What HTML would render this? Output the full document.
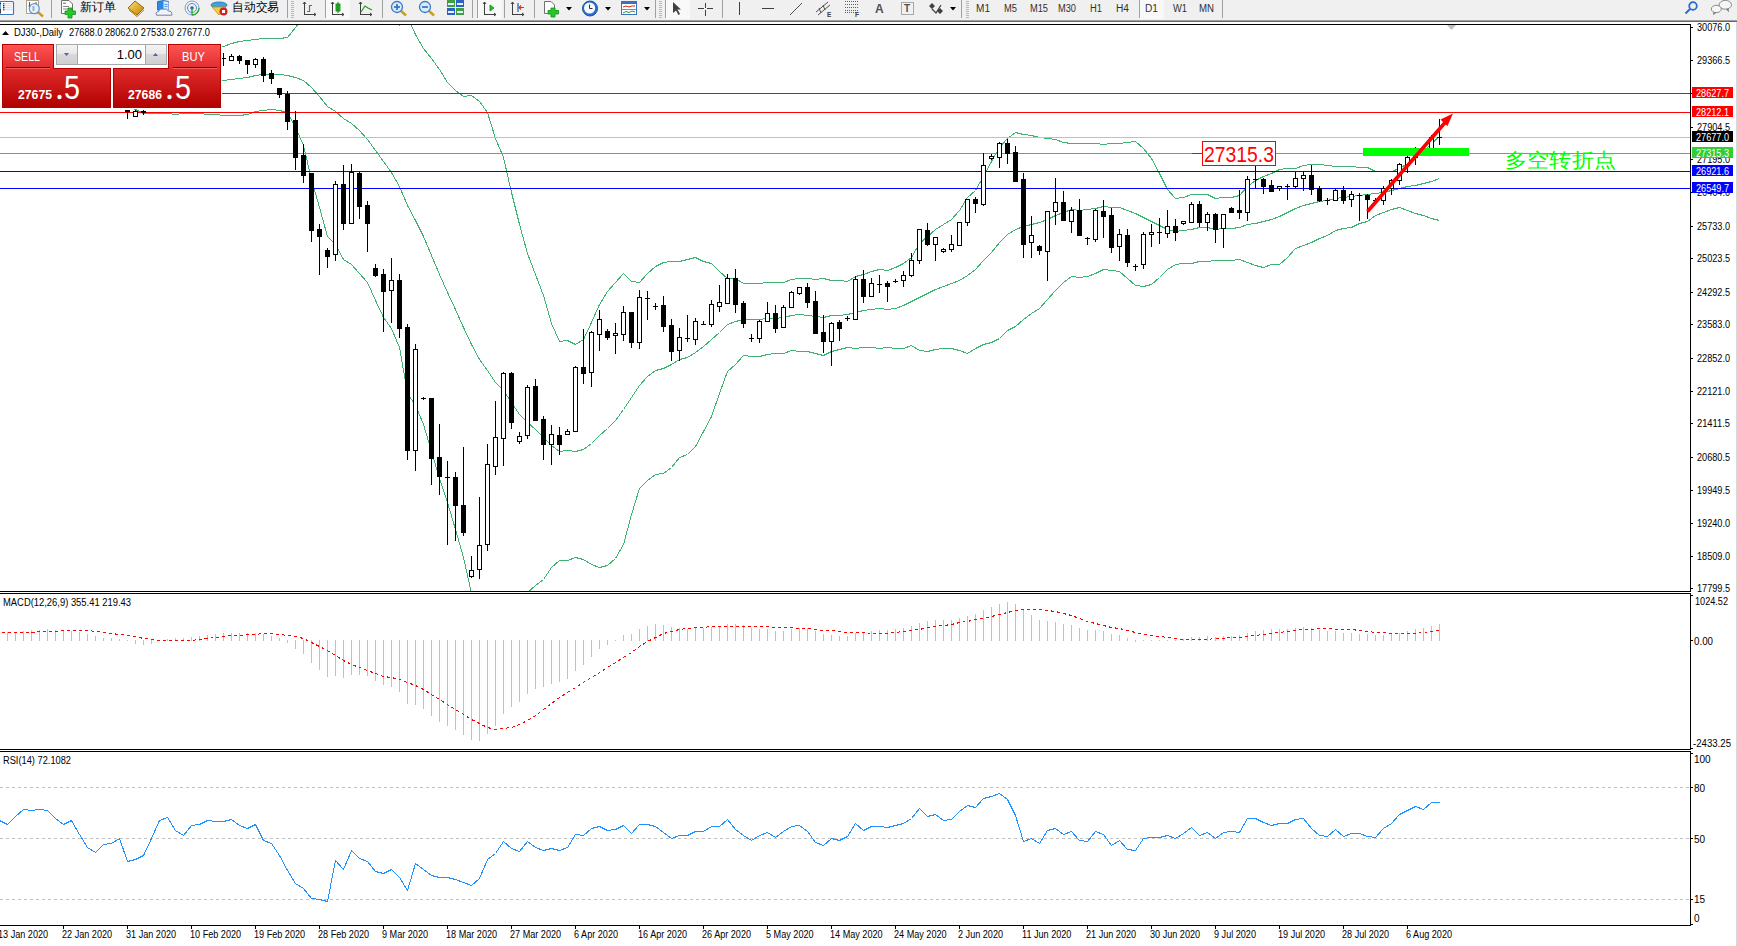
<!DOCTYPE html>
<html><head><meta charset="utf-8"><title>MT4</title>
<style>
html,body{margin:0;padding:0;width:1737px;height:946px;overflow:hidden;background:#fff;font-family:"Liberation Sans",sans-serif;}
#tb{position:absolute;left:0;top:0;width:1737px;height:20px;background:#f0f0f0;}
#tbl1{position:absolute;left:0;top:20px;width:1737px;height:1px;background:#a0a0a0;}
#tbl2{position:absolute;left:0;top:21px;width:1737px;height:1px;background:#696969;}
</style></head><body>
<svg width="1737" height="946" viewBox="0 0 1737 946" style="position:absolute;left:0;top:0">
<rect x="0" y="22" width="1737" height="924" fill="#ffffff"/>
<defs><clipPath id="cm"><rect x="0" y="25" width="1690" height="566"/></clipPath><clipPath id="cd"><rect x="0" y="594" width="1690" height="155"/></clipPath><clipPath id="cr"><rect x="0" y="752" width="1690" height="173"/></clipPath></defs>
<g clip-path="url(#cm)" shape-rendering="crispEdges">
<polyline points="-16.5,80.5 -8.5,80.5 -0.5,78.5 7.5,77.5 15.5,74.5 23.5,70.5 31.5,65.5 39.5,61.5 47.5,58.5 55.5,57.5 63.5,56.5 71.5,56.5 79.5,56.5 87.5,56.5 95.5,55.5 103.5,56.5 111.5,56.5 119.5,56.5 127.5,53.5 135.5,52.5 143.5,51.5 151.5,51.5 159.5,49.5 167.5,47.5 175.5,47.5 183.5,49.5 191.5,49.5 199.5,50.5 207.5,49.5 215.5,47.5 223.5,46.5 231.5,43.5 239.5,41.5 247.5,40.5 255.5,39.5 263.5,38.5 271.5,38.5 279.5,38.5 287.5,37.5 295.5,27.5 303.5,16.5 311.5,-4.5 319.5,-15.5 327.5,-23.5 335.5,-21.5 343.5,-22.5 351.5,-16.5 359.5,-11.5 367.5,-4.5 375.5,0.5 383.5,5.5 391.5,17.5 399.5,25.5 407.5,17.5 415.5,34.5 423.5,48.5 431.5,58.5 439.5,69.5 447.5,82.5 455.5,90.5 463.5,96.5 471.5,95.5 479.5,101.5 487.5,112.5 495.5,138.5 503.5,157.5 511.5,192.5 519.5,224.5 527.5,253.5 535.5,274.5 543.5,295.5 551.5,323.5 559.5,341.5 567.5,340.5 575.5,344.5 583.5,339.5 591.5,322.5 599.5,304.5 607.5,291.5 615.5,282.5 623.5,273.5 631.5,281.5 639.5,282.5 647.5,273.5 655.5,266.5 663.5,262.5 671.5,261.5 679.5,261.5 687.5,259.5 695.5,257.5 703.5,261.5 711.5,263.5 719.5,271.5 727.5,278.5 735.5,278.5 743.5,283.5 751.5,283.5 759.5,283.5 767.5,282.5 775.5,282.5 783.5,282.5 791.5,279.5 799.5,278.5 807.5,278.5 815.5,279.5 823.5,278.5 831.5,280.5 839.5,280.5 847.5,281.5 855.5,276.5 863.5,274.5 871.5,271.5 879.5,269.5 887.5,270.5 895.5,267.5 903.5,263.5 911.5,257.5 919.5,243.5 927.5,236.5 935.5,229.5 943.5,224.5 951.5,219.5 959.5,210.5 967.5,197.5 975.5,190.5 983.5,176.5 991.5,161.5 999.5,147.5 1007.5,138.5 1015.5,132.5 1023.5,134.5 1031.5,135.5 1039.5,137.5 1047.5,138.5 1055.5,139.5 1063.5,142.5 1071.5,143.5 1079.5,143.5 1087.5,143.5 1095.5,143.5 1103.5,144.5 1111.5,143.5 1119.5,143.5 1127.5,142.5 1135.5,141.5 1143.5,148.5 1151.5,158.5 1159.5,173.5 1167.5,189.5 1175.5,198.5 1183.5,197.5 1191.5,194.5 1199.5,194.5 1207.5,194.5 1215.5,198.5 1223.5,197.5 1231.5,197.5 1239.5,195.5 1247.5,186.5 1255.5,180.5 1263.5,176.5 1271.5,173.5 1279.5,169.5 1287.5,168.5 1295.5,168.5 1303.5,165.5 1311.5,164.5 1319.5,164.5 1327.5,165.5 1335.5,166.5 1343.5,166.5 1351.5,166.5 1359.5,167.5 1367.5,167.5 1375.5,171.5 1383.5,171.5 1391.5,171.5 1399.5,168.5 1407.5,163.5 1415.5,157.5 1423.5,151.5 1431.5,143.5 1439.5,136.5" fill="none" stroke="#3cb371" stroke-width="1" />
<polyline points="-16.5,94.5 -8.5,93.5 -0.5,92.5 7.5,90.5 15.5,89.5 23.5,88.5 31.5,86.5 39.5,84.5 47.5,83.5 55.5,81.5 63.5,80.5 71.5,78.5 79.5,78.5 87.5,78.5 95.5,79.5 103.5,78.5 111.5,78.5 119.5,78.5 127.5,79.5 135.5,81.5 143.5,82.5 151.5,82.5 159.5,81.5 167.5,80.5 175.5,80.5 183.5,81.5 191.5,81.5 199.5,81.5 207.5,81.5 215.5,81.5 223.5,80.5 231.5,79.5 239.5,78.5 247.5,77.5 255.5,75.5 263.5,74.5 271.5,74.5 279.5,74.5 287.5,75.5 295.5,77.5 303.5,80.5 311.5,87.5 319.5,96.5 327.5,106.5 335.5,111.5 343.5,118.5 351.5,123.5 359.5,130.5 367.5,139.5 375.5,150.5 383.5,161.5 391.5,172.5 399.5,186.5 407.5,205.5 415.5,220.5 423.5,236.5 431.5,255.5 439.5,274.5 447.5,292.5 455.5,309.5 463.5,327.5 471.5,344.5 479.5,359.5 487.5,370.5 495.5,382.5 503.5,390.5 511.5,402.5 519.5,414.5 527.5,422.5 535.5,429.5 543.5,437.5 551.5,445.5 559.5,451.5 567.5,450.5 575.5,451.5 583.5,449.5 591.5,443.5 599.5,435.5 607.5,428.5 615.5,420.5 623.5,409.5 631.5,397.5 639.5,385.5 647.5,376.5 655.5,370.5 663.5,368.5 671.5,364.5 679.5,359.5 687.5,357.5 695.5,352.5 703.5,346.5 711.5,339.5 719.5,332.5 727.5,324.5 735.5,321.5 743.5,319.5 751.5,319.5 759.5,319.5 767.5,318.5 775.5,318.5 783.5,317.5 791.5,315.5 799.5,314.5 807.5,315.5 815.5,316.5 823.5,317.5 831.5,315.5 839.5,315.5 847.5,314.5 855.5,312.5 863.5,310.5 871.5,309.5 879.5,308.5 887.5,309.5 895.5,308.5 903.5,305.5 911.5,301.5 919.5,297.5 927.5,293.5 935.5,289.5 943.5,286.5 951.5,283.5 959.5,280.5 967.5,275.5 975.5,269.5 983.5,260.5 991.5,252.5 999.5,242.5 1007.5,234.5 1015.5,229.5 1023.5,226.5 1031.5,224.5 1039.5,222.5 1047.5,219.5 1055.5,215.5 1063.5,212.5 1071.5,209.5 1079.5,210.5 1087.5,209.5 1095.5,208.5 1103.5,206.5 1111.5,207.5 1119.5,207.5 1127.5,210.5 1135.5,213.5 1143.5,217.5 1151.5,221.5 1159.5,225.5 1167.5,229.5 1175.5,231.5 1183.5,230.5 1191.5,229.5 1199.5,227.5 1207.5,227.5 1215.5,229.5 1223.5,228.5 1231.5,228.5 1239.5,227.5 1247.5,224.5 1255.5,223.5 1263.5,221.5 1271.5,219.5 1279.5,216.5 1287.5,212.5 1295.5,208.5 1303.5,205.5 1311.5,203.5 1319.5,201.5 1327.5,200.5 1335.5,198.5 1343.5,197.5 1351.5,196.5 1359.5,195.5 1367.5,194.5 1375.5,193.5 1383.5,192.5 1391.5,190.5 1399.5,188.5 1407.5,186.5 1415.5,185.5 1423.5,183.5 1431.5,181.5 1439.5,178.5" fill="none" stroke="#3cb371" stroke-width="1" />
<polyline points="-16.5,107.5 -8.5,105.5 -0.5,105.5 7.5,104.5 15.5,104.5 23.5,106.5 31.5,106.5 39.5,107.5 47.5,107.5 55.5,106.5 63.5,104.5 71.5,101.5 79.5,99.5 87.5,100.5 95.5,102.5 103.5,101.5 111.5,101.5 119.5,99.5 127.5,105.5 135.5,109.5 143.5,113.5 151.5,113.5 159.5,113.5 167.5,113.5 175.5,114.5 183.5,113.5 191.5,113.5 199.5,113.5 207.5,114.5 215.5,114.5 223.5,115.5 231.5,115.5 239.5,115.5 247.5,114.5 255.5,111.5 263.5,110.5 271.5,109.5 279.5,110.5 287.5,112.5 295.5,127.5 303.5,145.5 311.5,179.5 319.5,207.5 327.5,236.5 335.5,244.5 343.5,259.5 351.5,264.5 359.5,273.5 367.5,282.5 375.5,300.5 383.5,317.5 391.5,328.5 399.5,347.5 407.5,393.5 415.5,405.5 423.5,424.5 431.5,451.5 439.5,478.5 447.5,502.5 455.5,529.5 463.5,557.5 471.5,593.5 479.5,618.5 487.5,627.5 495.5,626.5 503.5,623.5 511.5,613.5 519.5,604.5 527.5,592.5 535.5,585.5 543.5,579.5 551.5,567.5 559.5,560.5 567.5,560.5 575.5,557.5 583.5,559.5 591.5,564.5 599.5,567.5 607.5,565.5 615.5,558.5 623.5,544.5 631.5,514.5 639.5,488.5 647.5,480.5 655.5,474.5 663.5,473.5 671.5,467.5 679.5,457.5 687.5,454.5 695.5,446.5 703.5,431.5 711.5,416.5 719.5,393.5 727.5,371.5 735.5,364.5 743.5,355.5 751.5,356.5 759.5,356.5 767.5,354.5 775.5,353.5 783.5,353.5 791.5,350.5 799.5,351.5 807.5,351.5 815.5,353.5 823.5,355.5 831.5,351.5 839.5,349.5 847.5,347.5 855.5,348.5 863.5,347.5 871.5,347.5 879.5,348.5 887.5,347.5 895.5,348.5 903.5,348.5 911.5,345.5 919.5,350.5 927.5,351.5 935.5,349.5 943.5,348.5 951.5,348.5 959.5,350.5 967.5,353.5 975.5,348.5 983.5,344.5 991.5,342.5 999.5,338.5 1007.5,330.5 1015.5,326.5 1023.5,319.5 1031.5,313.5 1039.5,308.5 1047.5,299.5 1055.5,290.5 1063.5,282.5 1071.5,276.5 1079.5,277.5 1087.5,276.5 1095.5,273.5 1103.5,269.5 1111.5,270.5 1119.5,271.5 1127.5,278.5 1135.5,285.5 1143.5,286.5 1151.5,284.5 1159.5,277.5 1167.5,269.5 1175.5,264.5 1183.5,263.5 1191.5,263.5 1199.5,261.5 1207.5,261.5 1215.5,260.5 1223.5,260.5 1231.5,260.5 1239.5,259.5 1247.5,262.5 1255.5,265.5 1263.5,267.5 1271.5,264.5 1279.5,264.5 1287.5,257.5 1295.5,248.5 1303.5,245.5 1311.5,242.5 1319.5,238.5 1327.5,235.5 1335.5,230.5 1343.5,228.5 1351.5,227.5 1359.5,223.5 1367.5,221.5 1375.5,215.5 1383.5,212.5 1391.5,209.5 1399.5,207.5 1407.5,210.5 1415.5,213.5 1423.5,215.5 1431.5,218.5 1439.5,220.5" fill="none" stroke="#3cb371" stroke-width="1" />
<rect x="0" y="93" width="1690" height="1" fill="#ff0000"/>
<rect x="0" y="112" width="1690" height="1" fill="#ff0000"/>
<rect x="0" y="137" width="1690" height="1" fill="#c0c0c0"/>
<rect x="0" y="153" width="1690" height="1" fill="#32cd32"/>
<rect x="0" y="171" width="1690" height="1" fill="#0000ff"/>
<rect x="0" y="188" width="1690" height="1" fill="#0000ff"/>
<rect x="1192" y="153" width="10" height="1" fill="#ff0000"/>
<rect x="127" y="110" width="1" height="9" fill="#000"/>
<rect x="125" y="110" width="5" height="2" fill="#000"/>
<rect x="135" y="110" width="1" height="7" fill="#000"/>
<rect x="133" y="111" width="5" height="6" fill="#000"/>
<rect x="134" y="112" width="3" height="4" fill="#fff"/>
<rect x="143" y="110" width="1" height="5" fill="#000"/>
<rect x="141" y="111" width="5" height="2" fill="#000"/>
<rect x="223" y="53" width="1" height="13" fill="#000"/>
<rect x="221" y="58" width="5" height="1" fill="#000"/>
<rect x="231" y="54" width="1" height="7" fill="#000"/>
<rect x="229" y="56" width="5" height="5" fill="#000"/>
<rect x="230" y="57" width="3" height="3" fill="#fff"/>
<rect x="239" y="55" width="1" height="9" fill="#000"/>
<rect x="237" y="56" width="5" height="5" fill="#000"/>
<rect x="247" y="60" width="1" height="14" fill="#000"/>
<rect x="245" y="60" width="5" height="5" fill="#000"/>
<rect x="255" y="58" width="1" height="10" fill="#000"/>
<rect x="253" y="59" width="5" height="6" fill="#000"/>
<rect x="254" y="60" width="3" height="4" fill="#fff"/>
<rect x="263" y="57" width="1" height="25" fill="#000"/>
<rect x="261" y="59" width="5" height="17" fill="#000"/>
<rect x="271" y="70" width="1" height="14" fill="#000"/>
<rect x="269" y="73" width="5" height="6" fill="#000"/>
<rect x="279" y="88" width="1" height="10" fill="#000"/>
<rect x="277" y="88" width="5" height="7" fill="#000"/>
<rect x="287" y="91" width="1" height="39" fill="#000"/>
<rect x="285" y="94" width="5" height="28" fill="#000"/>
<rect x="295" y="111" width="1" height="59" fill="#000"/>
<rect x="293" y="120" width="5" height="38" fill="#000"/>
<rect x="303" y="144" width="1" height="39" fill="#000"/>
<rect x="301" y="155" width="5" height="21" fill="#000"/>
<rect x="311" y="173" width="1" height="69" fill="#000"/>
<rect x="309" y="173" width="5" height="58" fill="#000"/>
<rect x="319" y="224" width="1" height="51" fill="#000"/>
<rect x="317" y="229" width="5" height="8" fill="#000"/>
<rect x="327" y="248" width="1" height="20" fill="#000"/>
<rect x="325" y="250" width="5" height="7" fill="#000"/>
<rect x="335" y="181" width="1" height="80" fill="#000"/>
<rect x="333" y="184" width="5" height="71" fill="#000"/>
<rect x="334" y="185" width="3" height="69" fill="#fff"/>
<rect x="343" y="165" width="1" height="65" fill="#000"/>
<rect x="341" y="184" width="5" height="40" fill="#000"/>
<rect x="351" y="164" width="1" height="60" fill="#000"/>
<rect x="349" y="172" width="5" height="52" fill="#000"/>
<rect x="350" y="173" width="3" height="50" fill="#fff"/>
<rect x="359" y="172" width="1" height="47" fill="#000"/>
<rect x="357" y="173" width="5" height="34" fill="#000"/>
<rect x="367" y="201" width="1" height="51" fill="#000"/>
<rect x="365" y="205" width="5" height="19" fill="#000"/>
<rect x="375" y="264" width="1" height="13" fill="#000"/>
<rect x="373" y="268" width="5" height="8" fill="#000"/>
<rect x="383" y="269" width="1" height="63" fill="#000"/>
<rect x="381" y="274" width="5" height="18" fill="#000"/>
<rect x="391" y="258" width="1" height="65" fill="#000"/>
<rect x="389" y="280" width="5" height="11" fill="#000"/>
<rect x="390" y="281" width="3" height="9" fill="#fff"/>
<rect x="399" y="274" width="1" height="64" fill="#000"/>
<rect x="397" y="280" width="5" height="49" fill="#000"/>
<rect x="407" y="324" width="1" height="136" fill="#000"/>
<rect x="405" y="327" width="5" height="124" fill="#000"/>
<rect x="415" y="344" width="1" height="127" fill="#000"/>
<rect x="413" y="349" width="5" height="102" fill="#000"/>
<rect x="414" y="350" width="3" height="100" fill="#fff"/>
<rect x="423" y="397" width="1" height="3" fill="#000"/>
<rect x="421" y="398" width="5" height="1" fill="#000"/>
<rect x="431" y="398" width="1" height="87" fill="#000"/>
<rect x="429" y="398" width="5" height="61" fill="#000"/>
<rect x="439" y="424" width="1" height="71" fill="#000"/>
<rect x="437" y="457" width="5" height="20" fill="#000"/>
<rect x="447" y="461" width="1" height="84" fill="#000"/>
<rect x="445" y="477" width="5" height="1" fill="#000"/>
<rect x="455" y="472" width="1" height="69" fill="#000"/>
<rect x="453" y="477" width="5" height="29" fill="#000"/>
<rect x="463" y="447" width="1" height="89" fill="#000"/>
<rect x="461" y="505" width="5" height="28" fill="#000"/>
<rect x="471" y="556" width="1" height="22" fill="#000"/>
<rect x="469" y="570" width="5" height="7" fill="#000"/>
<rect x="470" y="571" width="3" height="5" fill="#fff"/>
<rect x="479" y="497" width="1" height="82" fill="#000"/>
<rect x="477" y="545" width="5" height="25" fill="#000"/>
<rect x="478" y="546" width="3" height="23" fill="#fff"/>
<rect x="487" y="444" width="1" height="107" fill="#000"/>
<rect x="485" y="464" width="5" height="81" fill="#000"/>
<rect x="486" y="465" width="3" height="79" fill="#fff"/>
<rect x="495" y="401" width="1" height="74" fill="#000"/>
<rect x="493" y="437" width="5" height="30" fill="#000"/>
<rect x="494" y="438" width="3" height="28" fill="#fff"/>
<rect x="503" y="372" width="1" height="94" fill="#000"/>
<rect x="501" y="373" width="5" height="66" fill="#000"/>
<rect x="502" y="374" width="3" height="64" fill="#fff"/>
<rect x="511" y="372" width="1" height="57" fill="#000"/>
<rect x="509" y="373" width="5" height="50" fill="#000"/>
<rect x="519" y="432" width="1" height="12" fill="#000"/>
<rect x="517" y="436" width="5" height="6" fill="#000"/>
<rect x="518" y="437" width="3" height="4" fill="#fff"/>
<rect x="527" y="385" width="1" height="54" fill="#000"/>
<rect x="525" y="387" width="5" height="49" fill="#000"/>
<rect x="526" y="388" width="3" height="47" fill="#fff"/>
<rect x="535" y="379" width="1" height="42" fill="#000"/>
<rect x="533" y="386" width="5" height="35" fill="#000"/>
<rect x="543" y="416" width="1" height="44" fill="#000"/>
<rect x="541" y="419" width="5" height="26" fill="#000"/>
<rect x="551" y="425" width="1" height="40" fill="#000"/>
<rect x="549" y="434" width="5" height="11" fill="#000"/>
<rect x="550" y="435" width="3" height="9" fill="#fff"/>
<rect x="559" y="427" width="1" height="28" fill="#000"/>
<rect x="557" y="435" width="5" height="10" fill="#000"/>
<rect x="567" y="429" width="1" height="6" fill="#000"/>
<rect x="565" y="431" width="5" height="4" fill="#000"/>
<rect x="566" y="432" width="3" height="2" fill="#fff"/>
<rect x="575" y="366" width="1" height="66" fill="#000"/>
<rect x="573" y="367" width="5" height="65" fill="#000"/>
<rect x="574" y="368" width="3" height="63" fill="#fff"/>
<rect x="583" y="329" width="1" height="55" fill="#000"/>
<rect x="581" y="367" width="5" height="7" fill="#000"/>
<rect x="591" y="331" width="1" height="56" fill="#000"/>
<rect x="589" y="332" width="5" height="41" fill="#000"/>
<rect x="590" y="333" width="3" height="39" fill="#fff"/>
<rect x="599" y="310" width="1" height="41" fill="#000"/>
<rect x="597" y="319" width="5" height="16" fill="#000"/>
<rect x="598" y="320" width="3" height="14" fill="#fff"/>
<rect x="607" y="329" width="1" height="11" fill="#000"/>
<rect x="605" y="331" width="5" height="7" fill="#000"/>
<rect x="615" y="323" width="1" height="31" fill="#000"/>
<rect x="613" y="333" width="5" height="3" fill="#000"/>
<rect x="614" y="334" width="3" height="1" fill="#fff"/>
<rect x="623" y="306" width="1" height="35" fill="#000"/>
<rect x="621" y="312" width="5" height="23" fill="#000"/>
<rect x="622" y="313" width="3" height="21" fill="#fff"/>
<rect x="631" y="312" width="1" height="36" fill="#000"/>
<rect x="629" y="312" width="5" height="31" fill="#000"/>
<rect x="639" y="290" width="1" height="59" fill="#000"/>
<rect x="637" y="297" width="5" height="46" fill="#000"/>
<rect x="638" y="298" width="3" height="44" fill="#fff"/>
<rect x="647" y="291" width="1" height="29" fill="#000"/>
<rect x="645" y="298" width="5" height="1" fill="#000"/>
<rect x="655" y="303" width="1" height="7" fill="#000"/>
<rect x="653" y="306" width="5" height="1" fill="#000"/>
<rect x="663" y="296" width="1" height="36" fill="#000"/>
<rect x="661" y="305" width="5" height="22" fill="#000"/>
<rect x="671" y="319" width="1" height="42" fill="#000"/>
<rect x="669" y="325" width="5" height="27" fill="#000"/>
<rect x="679" y="328" width="1" height="33" fill="#000"/>
<rect x="677" y="337" width="5" height="14" fill="#000"/>
<rect x="678" y="338" width="3" height="12" fill="#fff"/>
<rect x="687" y="315" width="1" height="27" fill="#000"/>
<rect x="685" y="338" width="5" height="1" fill="#000"/>
<rect x="695" y="318" width="1" height="27" fill="#000"/>
<rect x="693" y="321" width="5" height="19" fill="#000"/>
<rect x="694" y="322" width="3" height="17" fill="#fff"/>
<rect x="703" y="321" width="1" height="4" fill="#000"/>
<rect x="701" y="324" width="5" height="1" fill="#000"/>
<rect x="711" y="300" width="1" height="27" fill="#000"/>
<rect x="709" y="304" width="5" height="21" fill="#000"/>
<rect x="710" y="305" width="3" height="19" fill="#fff"/>
<rect x="719" y="285" width="1" height="27" fill="#000"/>
<rect x="717" y="302" width="5" height="5" fill="#000"/>
<rect x="718" y="303" width="3" height="3" fill="#fff"/>
<rect x="727" y="274" width="1" height="30" fill="#000"/>
<rect x="725" y="278" width="5" height="26" fill="#000"/>
<rect x="726" y="279" width="3" height="24" fill="#fff"/>
<rect x="735" y="269" width="1" height="44" fill="#000"/>
<rect x="733" y="278" width="5" height="27" fill="#000"/>
<rect x="743" y="301" width="1" height="27" fill="#000"/>
<rect x="741" y="303" width="5" height="21" fill="#000"/>
<rect x="751" y="334" width="1" height="8" fill="#000"/>
<rect x="749" y="338" width="5" height="1" fill="#000"/>
<rect x="759" y="320" width="1" height="23" fill="#000"/>
<rect x="757" y="321" width="5" height="18" fill="#000"/>
<rect x="758" y="322" width="3" height="16" fill="#fff"/>
<rect x="767" y="302" width="1" height="20" fill="#000"/>
<rect x="765" y="313" width="5" height="9" fill="#000"/>
<rect x="766" y="314" width="3" height="7" fill="#fff"/>
<rect x="775" y="305" width="1" height="28" fill="#000"/>
<rect x="773" y="313" width="5" height="16" fill="#000"/>
<rect x="783" y="305" width="1" height="23" fill="#000"/>
<rect x="781" y="307" width="5" height="21" fill="#000"/>
<rect x="782" y="308" width="3" height="19" fill="#fff"/>
<rect x="791" y="291" width="1" height="17" fill="#000"/>
<rect x="789" y="292" width="5" height="16" fill="#000"/>
<rect x="790" y="293" width="3" height="14" fill="#fff"/>
<rect x="799" y="287" width="1" height="8" fill="#000"/>
<rect x="797" y="287" width="5" height="7" fill="#000"/>
<rect x="798" y="288" width="3" height="5" fill="#fff"/>
<rect x="807" y="283" width="1" height="25" fill="#000"/>
<rect x="805" y="287" width="5" height="16" fill="#000"/>
<rect x="815" y="291" width="1" height="43" fill="#000"/>
<rect x="813" y="301" width="5" height="33" fill="#000"/>
<rect x="823" y="315" width="1" height="38" fill="#000"/>
<rect x="821" y="332" width="5" height="10" fill="#000"/>
<rect x="831" y="322" width="1" height="44" fill="#000"/>
<rect x="829" y="323" width="5" height="19" fill="#000"/>
<rect x="830" y="324" width="3" height="17" fill="#fff"/>
<rect x="839" y="320" width="1" height="21" fill="#000"/>
<rect x="837" y="322" width="5" height="7" fill="#000"/>
<rect x="847" y="316" width="1" height="5" fill="#000"/>
<rect x="845" y="318" width="5" height="1" fill="#000"/>
<rect x="855" y="276" width="1" height="44" fill="#000"/>
<rect x="853" y="279" width="5" height="41" fill="#000"/>
<rect x="854" y="280" width="3" height="39" fill="#fff"/>
<rect x="863" y="270" width="1" height="33" fill="#000"/>
<rect x="861" y="279" width="5" height="18" fill="#000"/>
<rect x="871" y="278" width="1" height="19" fill="#000"/>
<rect x="869" y="283" width="5" height="14" fill="#000"/>
<rect x="870" y="284" width="3" height="12" fill="#fff"/>
<rect x="879" y="275" width="1" height="18" fill="#000"/>
<rect x="877" y="284" width="5" height="1" fill="#000"/>
<rect x="887" y="281" width="1" height="21" fill="#000"/>
<rect x="885" y="283" width="5" height="4" fill="#000"/>
<rect x="895" y="279" width="1" height="4" fill="#000"/>
<rect x="893" y="281" width="5" height="1" fill="#000"/>
<rect x="903" y="271" width="1" height="16" fill="#000"/>
<rect x="901" y="275" width="5" height="6" fill="#000"/>
<rect x="902" y="276" width="3" height="4" fill="#fff"/>
<rect x="911" y="253" width="1" height="24" fill="#000"/>
<rect x="909" y="260" width="5" height="16" fill="#000"/>
<rect x="910" y="261" width="3" height="14" fill="#fff"/>
<rect x="919" y="229" width="1" height="35" fill="#000"/>
<rect x="917" y="229" width="5" height="32" fill="#000"/>
<rect x="918" y="230" width="3" height="30" fill="#fff"/>
<rect x="927" y="223" width="1" height="23" fill="#000"/>
<rect x="925" y="230" width="5" height="15" fill="#000"/>
<rect x="935" y="237" width="1" height="24" fill="#000"/>
<rect x="933" y="237" width="5" height="8" fill="#000"/>
<rect x="934" y="238" width="3" height="6" fill="#fff"/>
<rect x="943" y="248" width="1" height="5" fill="#000"/>
<rect x="941" y="249" width="5" height="3" fill="#000"/>
<rect x="942" y="250" width="3" height="1" fill="#fff"/>
<rect x="951" y="235" width="1" height="17" fill="#000"/>
<rect x="949" y="244" width="5" height="6" fill="#000"/>
<rect x="950" y="245" width="3" height="4" fill="#fff"/>
<rect x="959" y="222" width="1" height="24" fill="#000"/>
<rect x="957" y="222" width="5" height="24" fill="#000"/>
<rect x="958" y="223" width="3" height="22" fill="#fff"/>
<rect x="967" y="199" width="1" height="27" fill="#000"/>
<rect x="965" y="199" width="5" height="24" fill="#000"/>
<rect x="966" y="200" width="3" height="22" fill="#fff"/>
<rect x="975" y="197" width="1" height="16" fill="#000"/>
<rect x="973" y="199" width="5" height="5" fill="#000"/>
<rect x="983" y="153" width="1" height="53" fill="#000"/>
<rect x="981" y="165" width="5" height="40" fill="#000"/>
<rect x="982" y="166" width="3" height="38" fill="#fff"/>
<rect x="991" y="154" width="1" height="6" fill="#000"/>
<rect x="989" y="156" width="5" height="3" fill="#000"/>
<rect x="990" y="157" width="3" height="1" fill="#fff"/>
<rect x="999" y="142" width="1" height="26" fill="#000"/>
<rect x="997" y="143" width="5" height="15" fill="#000"/>
<rect x="998" y="144" width="3" height="13" fill="#fff"/>
<rect x="1007" y="139" width="1" height="25" fill="#000"/>
<rect x="1005" y="143" width="5" height="11" fill="#000"/>
<rect x="1015" y="146" width="1" height="36" fill="#000"/>
<rect x="1013" y="152" width="5" height="30" fill="#000"/>
<rect x="1023" y="173" width="1" height="85" fill="#000"/>
<rect x="1021" y="179" width="5" height="66" fill="#000"/>
<rect x="1031" y="216" width="1" height="42" fill="#000"/>
<rect x="1029" y="235" width="5" height="8" fill="#000"/>
<rect x="1030" y="236" width="3" height="6" fill="#fff"/>
<rect x="1039" y="245" width="1" height="10" fill="#000"/>
<rect x="1037" y="246" width="5" height="5" fill="#000"/>
<rect x="1047" y="211" width="1" height="70" fill="#000"/>
<rect x="1045" y="211" width="5" height="41" fill="#000"/>
<rect x="1046" y="212" width="3" height="39" fill="#fff"/>
<rect x="1055" y="178" width="1" height="47" fill="#000"/>
<rect x="1053" y="202" width="5" height="10" fill="#000"/>
<rect x="1054" y="203" width="3" height="8" fill="#fff"/>
<rect x="1063" y="191" width="1" height="30" fill="#000"/>
<rect x="1061" y="202" width="5" height="19" fill="#000"/>
<rect x="1071" y="207" width="1" height="26" fill="#000"/>
<rect x="1069" y="210" width="5" height="12" fill="#000"/>
<rect x="1070" y="211" width="3" height="10" fill="#fff"/>
<rect x="1079" y="199" width="1" height="37" fill="#000"/>
<rect x="1077" y="210" width="5" height="26" fill="#000"/>
<rect x="1087" y="237" width="1" height="8" fill="#000"/>
<rect x="1085" y="238" width="5" height="1" fill="#000"/>
<rect x="1095" y="209" width="1" height="33" fill="#000"/>
<rect x="1093" y="210" width="5" height="30" fill="#000"/>
<rect x="1094" y="211" width="3" height="28" fill="#fff"/>
<rect x="1103" y="200" width="1" height="38" fill="#000"/>
<rect x="1101" y="211" width="5" height="6" fill="#000"/>
<rect x="1111" y="208" width="1" height="45" fill="#000"/>
<rect x="1109" y="215" width="5" height="33" fill="#000"/>
<rect x="1119" y="229" width="1" height="32" fill="#000"/>
<rect x="1117" y="234" width="5" height="13" fill="#000"/>
<rect x="1118" y="235" width="3" height="11" fill="#fff"/>
<rect x="1127" y="229" width="1" height="38" fill="#000"/>
<rect x="1125" y="235" width="5" height="28" fill="#000"/>
<rect x="1135" y="264" width="1" height="7" fill="#000"/>
<rect x="1133" y="266" width="5" height="1" fill="#000"/>
<rect x="1143" y="232" width="1" height="37" fill="#000"/>
<rect x="1141" y="234" width="5" height="31" fill="#000"/>
<rect x="1142" y="235" width="3" height="29" fill="#fff"/>
<rect x="1151" y="224" width="1" height="23" fill="#000"/>
<rect x="1149" y="232" width="5" height="3" fill="#000"/>
<rect x="1150" y="233" width="3" height="1" fill="#fff"/>
<rect x="1159" y="218" width="1" height="26" fill="#000"/>
<rect x="1157" y="232" width="5" height="1" fill="#000"/>
<rect x="1167" y="210" width="1" height="28" fill="#000"/>
<rect x="1165" y="226" width="5" height="8" fill="#000"/>
<rect x="1166" y="227" width="3" height="6" fill="#fff"/>
<rect x="1175" y="219" width="1" height="22" fill="#000"/>
<rect x="1173" y="226" width="5" height="7" fill="#000"/>
<rect x="1183" y="221" width="1" height="4" fill="#000"/>
<rect x="1181" y="221" width="5" height="3" fill="#000"/>
<rect x="1182" y="222" width="3" height="1" fill="#fff"/>
<rect x="1191" y="202" width="1" height="21" fill="#000"/>
<rect x="1189" y="204" width="5" height="19" fill="#000"/>
<rect x="1190" y="205" width="3" height="17" fill="#fff"/>
<rect x="1199" y="201" width="1" height="26" fill="#000"/>
<rect x="1197" y="204" width="5" height="19" fill="#000"/>
<rect x="1207" y="212" width="1" height="19" fill="#000"/>
<rect x="1205" y="214" width="5" height="9" fill="#000"/>
<rect x="1206" y="215" width="3" height="7" fill="#fff"/>
<rect x="1215" y="213" width="1" height="30" fill="#000"/>
<rect x="1213" y="214" width="5" height="16" fill="#000"/>
<rect x="1223" y="214" width="1" height="34" fill="#000"/>
<rect x="1221" y="214" width="5" height="15" fill="#000"/>
<rect x="1222" y="215" width="3" height="13" fill="#fff"/>
<rect x="1231" y="207" width="1" height="6" fill="#000"/>
<rect x="1229" y="208" width="5" height="5" fill="#000"/>
<rect x="1239" y="190" width="1" height="29" fill="#000"/>
<rect x="1237" y="210" width="5" height="3" fill="#000"/>
<rect x="1247" y="176" width="1" height="45" fill="#000"/>
<rect x="1245" y="179" width="5" height="34" fill="#000"/>
<rect x="1246" y="180" width="3" height="32" fill="#fff"/>
<rect x="1255" y="165" width="1" height="24" fill="#000"/>
<rect x="1253" y="179" width="5" height="1" fill="#000"/>
<rect x="1263" y="178" width="1" height="16" fill="#000"/>
<rect x="1261" y="179" width="5" height="8" fill="#000"/>
<rect x="1271" y="180" width="1" height="12" fill="#000"/>
<rect x="1269" y="185" width="5" height="7" fill="#000"/>
<rect x="1279" y="186" width="1" height="5" fill="#000"/>
<rect x="1277" y="186" width="5" height="3" fill="#000"/>
<rect x="1278" y="187" width="3" height="1" fill="#fff"/>
<rect x="1287" y="184" width="1" height="16" fill="#000"/>
<rect x="1285" y="186" width="5" height="1" fill="#000"/>
<rect x="1295" y="172" width="1" height="16" fill="#000"/>
<rect x="1293" y="178" width="5" height="9" fill="#000"/>
<rect x="1294" y="179" width="3" height="7" fill="#fff"/>
<rect x="1303" y="171" width="1" height="20" fill="#000"/>
<rect x="1301" y="175" width="5" height="4" fill="#000"/>
<rect x="1302" y="176" width="3" height="2" fill="#fff"/>
<rect x="1311" y="165" width="1" height="30" fill="#000"/>
<rect x="1309" y="175" width="5" height="15" fill="#000"/>
<rect x="1319" y="186" width="1" height="16" fill="#000"/>
<rect x="1317" y="188" width="5" height="13" fill="#000"/>
<rect x="1327" y="198" width="1" height="7" fill="#000"/>
<rect x="1325" y="200" width="5" height="1" fill="#000"/>
<rect x="1335" y="189" width="1" height="12" fill="#000"/>
<rect x="1333" y="190" width="5" height="11" fill="#000"/>
<rect x="1334" y="191" width="3" height="9" fill="#fff"/>
<rect x="1343" y="186" width="1" height="18" fill="#000"/>
<rect x="1341" y="190" width="5" height="11" fill="#000"/>
<rect x="1351" y="191" width="1" height="16" fill="#000"/>
<rect x="1349" y="194" width="5" height="6" fill="#000"/>
<rect x="1350" y="195" width="3" height="4" fill="#fff"/>
<rect x="1359" y="193" width="1" height="28" fill="#000"/>
<rect x="1357" y="195" width="5" height="1" fill="#000"/>
<rect x="1367" y="194" width="1" height="25" fill="#000"/>
<rect x="1365" y="195" width="5" height="5" fill="#000"/>
<rect x="1375" y="198" width="1" height="4" fill="#000"/>
<rect x="1373" y="200" width="5" height="1" fill="#000"/>
<rect x="1383" y="186" width="1" height="19" fill="#000"/>
<rect x="1381" y="188" width="5" height="13" fill="#000"/>
<rect x="1382" y="189" width="3" height="11" fill="#fff"/>
<rect x="1391" y="179" width="1" height="16" fill="#000"/>
<rect x="1389" y="180" width="5" height="9" fill="#000"/>
<rect x="1390" y="181" width="3" height="7" fill="#fff"/>
<rect x="1399" y="163" width="1" height="22" fill="#000"/>
<rect x="1397" y="164" width="5" height="17" fill="#000"/>
<rect x="1398" y="165" width="3" height="15" fill="#fff"/>
<rect x="1407" y="156" width="1" height="17" fill="#000"/>
<rect x="1405" y="157" width="5" height="9" fill="#000"/>
<rect x="1406" y="158" width="3" height="7" fill="#fff"/>
<rect x="1415" y="147" width="1" height="18" fill="#000"/>
<rect x="1413" y="149" width="5" height="9" fill="#000"/>
<rect x="1414" y="150" width="3" height="7" fill="#fff"/>
<rect x="1423" y="146" width="1" height="8" fill="#000"/>
<rect x="1421" y="149" width="5" height="4" fill="#000"/>
<rect x="1431" y="135" width="1" height="14" fill="#000"/>
<rect x="1429" y="137" width="5" height="12" fill="#000"/>
<rect x="1430" y="138" width="3" height="10" fill="#fff"/>
<rect x="1439" y="119" width="1" height="26" fill="#000"/>
<rect x="1437" y="137" width="5" height="1" fill="#000"/>
<rect x="1363" y="148" width="106" height="8" fill="#00ff00"/>
</g>
<g fill="#ff0000"><polygon points="1368.86,212.68 1366.14,210.32 1444.64,120.32 1447.36,122.68"/><polygon points="1453,113.5 1440.5,119.5 1444,123 1447.5,126"/></g>
<rect x="1202.5" y="141.5" width="73" height="24" fill="#fff" stroke="#ff0000" stroke-width="1"/>
<text x="1204" y="162" font-family="Liberation Sans" font-size="22" fill="#ff0000" textLength="70" lengthAdjust="spacingAndGlyphs">27315.3</text>
<text x="1505" y="167" font-size="20" fill="#00ff00" textLength="111" lengthAdjust="spacingAndGlyphs" style="font-family:'Liberation Sans',sans-serif">多空转折点</text>
<polygon points="1447,25 1456,25 1451.5,30" fill="#c0c0c0"/>
<g clip-path="url(#cd)">
<g shape-rendering="crispEdges" fill="#c0c0c0">
<rect x="-1" y="633" width="1" height="8"/>
<rect x="7" y="632" width="1" height="9"/>
<rect x="15" y="632" width="1" height="9"/>
<rect x="23" y="631" width="1" height="10"/>
<rect x="31" y="630" width="1" height="11"/>
<rect x="39" y="630" width="1" height="11"/>
<rect x="47" y="629" width="1" height="12"/>
<rect x="55" y="630" width="1" height="11"/>
<rect x="63" y="630" width="1" height="11"/>
<rect x="71" y="631" width="1" height="10"/>
<rect x="79" y="632" width="1" height="9"/>
<rect x="87" y="634" width="1" height="7"/>
<rect x="95" y="636" width="1" height="5"/>
<rect x="103" y="638" width="1" height="3"/>
<rect x="111" y="638" width="1" height="3"/>
<rect x="119" y="639" width="1" height="2"/>
<rect x="127" y="640" width="1" height="1"/>
<rect x="135" y="640" width="1" height="4"/>
<rect x="143" y="640" width="1" height="5"/>
<rect x="151" y="640" width="1" height="4"/>
<rect x="159" y="640" width="1" height="1"/>
<rect x="167" y="639" width="1" height="2"/>
<rect x="175" y="638" width="1" height="3"/>
<rect x="183" y="638" width="1" height="3"/>
<rect x="191" y="637" width="1" height="4"/>
<rect x="199" y="636" width="1" height="5"/>
<rect x="207" y="635" width="1" height="6"/>
<rect x="215" y="634" width="1" height="7"/>
<rect x="223" y="633" width="1" height="8"/>
<rect x="231" y="633" width="1" height="8"/>
<rect x="239" y="633" width="1" height="8"/>
<rect x="247" y="633" width="1" height="8"/>
<rect x="255" y="633" width="1" height="8"/>
<rect x="263" y="634" width="1" height="7"/>
<rect x="271" y="636" width="1" height="5"/>
<rect x="279" y="638" width="1" height="3"/>
<rect x="287" y="640" width="1" height="3"/>
<rect x="295" y="640" width="1" height="9"/>
<rect x="303" y="640" width="1" height="14"/>
<rect x="311" y="640" width="1" height="23"/>
<rect x="319" y="640" width="1" height="30"/>
<rect x="327" y="640" width="1" height="37"/>
<rect x="335" y="640" width="1" height="36"/>
<rect x="343" y="640" width="1" height="38"/>
<rect x="351" y="640" width="1" height="35"/>
<rect x="359" y="640" width="1" height="35"/>
<rect x="367" y="640" width="1" height="36"/>
<rect x="375" y="640" width="1" height="41"/>
<rect x="383" y="640" width="1" height="45"/>
<rect x="391" y="640" width="1" height="47"/>
<rect x="399" y="640" width="1" height="52"/>
<rect x="407" y="640" width="1" height="64"/>
<rect x="415" y="640" width="1" height="65"/>
<rect x="423" y="640" width="1" height="69"/>
<rect x="431" y="640" width="1" height="76"/>
<rect x="439" y="640" width="1" height="82"/>
<rect x="447" y="640" width="1" height="86"/>
<rect x="455" y="640" width="1" height="90"/>
<rect x="463" y="640" width="1" height="95"/>
<rect x="471" y="640" width="1" height="100"/>
<rect x="479" y="640" width="1" height="101"/>
<rect x="487" y="640" width="1" height="94"/>
<rect x="495" y="640" width="1" height="86"/>
<rect x="503" y="640" width="1" height="74"/>
<rect x="511" y="640" width="1" height="67"/>
<rect x="519" y="640" width="1" height="62"/>
<rect x="527" y="640" width="1" height="54"/>
<rect x="535" y="640" width="1" height="49"/>
<rect x="543" y="640" width="1" height="47"/>
<rect x="551" y="640" width="1" height="44"/>
<rect x="559" y="640" width="1" height="42"/>
<rect x="567" y="640" width="1" height="39"/>
<rect x="575" y="640" width="1" height="31"/>
<rect x="583" y="640" width="1" height="25"/>
<rect x="591" y="640" width="1" height="17"/>
<rect x="599" y="640" width="1" height="9"/>
<rect x="607" y="640" width="1" height="5"/>
<rect x="615" y="640" width="1" height="1"/>
<rect x="623" y="635" width="1" height="6"/>
<rect x="631" y="634" width="1" height="7"/>
<rect x="639" y="629" width="1" height="12"/>
<rect x="647" y="626" width="1" height="15"/>
<rect x="655" y="624" width="1" height="17"/>
<rect x="663" y="625" width="1" height="16"/>
<rect x="671" y="627" width="1" height="14"/>
<rect x="679" y="628" width="1" height="13"/>
<rect x="687" y="629" width="1" height="12"/>
<rect x="695" y="628" width="1" height="13"/>
<rect x="703" y="628" width="1" height="13"/>
<rect x="711" y="627" width="1" height="14"/>
<rect x="719" y="626" width="1" height="15"/>
<rect x="727" y="624" width="1" height="17"/>
<rect x="735" y="624" width="1" height="17"/>
<rect x="743" y="625" width="1" height="16"/>
<rect x="751" y="628" width="1" height="13"/>
<rect x="759" y="629" width="1" height="12"/>
<rect x="767" y="629" width="1" height="12"/>
<rect x="775" y="631" width="1" height="10"/>
<rect x="783" y="631" width="1" height="10"/>
<rect x="791" y="629" width="1" height="12"/>
<rect x="799" y="628" width="1" height="13"/>
<rect x="807" y="628" width="1" height="13"/>
<rect x="815" y="631" width="1" height="10"/>
<rect x="823" y="634" width="1" height="7"/>
<rect x="831" y="635" width="1" height="6"/>
<rect x="839" y="636" width="1" height="5"/>
<rect x="847" y="636" width="1" height="5"/>
<rect x="855" y="633" width="1" height="8"/>
<rect x="863" y="633" width="1" height="8"/>
<rect x="871" y="631" width="1" height="10"/>
<rect x="879" y="630" width="1" height="11"/>
<rect x="887" y="630" width="1" height="11"/>
<rect x="895" y="629" width="1" height="12"/>
<rect x="903" y="628" width="1" height="13"/>
<rect x="911" y="626" width="1" height="15"/>
<rect x="919" y="623" width="1" height="18"/>
<rect x="927" y="621" width="1" height="20"/>
<rect x="935" y="620" width="1" height="21"/>
<rect x="943" y="620" width="1" height="21"/>
<rect x="951" y="620" width="1" height="21"/>
<rect x="959" y="618" width="1" height="23"/>
<rect x="967" y="616" width="1" height="25"/>
<rect x="975" y="614" width="1" height="27"/>
<rect x="983" y="610" width="1" height="31"/>
<rect x="991" y="607" width="1" height="34"/>
<rect x="999" y="604" width="1" height="37"/>
<rect x="1007" y="602" width="1" height="39"/>
<rect x="1015" y="604" width="1" height="37"/>
<rect x="1023" y="610" width="1" height="31"/>
<rect x="1031" y="615" width="1" height="26"/>
<rect x="1039" y="620" width="1" height="21"/>
<rect x="1047" y="621" width="1" height="20"/>
<rect x="1055" y="622" width="1" height="19"/>
<rect x="1063" y="624" width="1" height="17"/>
<rect x="1071" y="625" width="1" height="16"/>
<rect x="1079" y="628" width="1" height="13"/>
<rect x="1087" y="630" width="1" height="11"/>
<rect x="1095" y="630" width="1" height="11"/>
<rect x="1103" y="631" width="1" height="10"/>
<rect x="1111" y="634" width="1" height="7"/>
<rect x="1119" y="635" width="1" height="6"/>
<rect x="1127" y="638" width="1" height="3"/>
<rect x="1135" y="640" width="1" height="2"/>
<rect x="1143" y="640" width="1" height="1"/>
<rect x="1151" y="640" width="1" height="1"/>
<rect x="1159" y="640" width="1" height="1"/>
<rect x="1167" y="640" width="1" height="1"/>
<rect x="1175" y="640" width="1" height="1"/>
<rect x="1183" y="639" width="1" height="2"/>
<rect x="1191" y="637" width="1" height="4"/>
<rect x="1199" y="637" width="1" height="4"/>
<rect x="1207" y="636" width="1" height="5"/>
<rect x="1215" y="637" width="1" height="4"/>
<rect x="1223" y="636" width="1" height="5"/>
<rect x="1231" y="636" width="1" height="5"/>
<rect x="1239" y="635" width="1" height="6"/>
<rect x="1247" y="633" width="1" height="8"/>
<rect x="1255" y="631" width="1" height="10"/>
<rect x="1263" y="630" width="1" height="11"/>
<rect x="1271" y="629" width="1" height="12"/>
<rect x="1279" y="629" width="1" height="12"/>
<rect x="1287" y="629" width="1" height="12"/>
<rect x="1295" y="628" width="1" height="13"/>
<rect x="1303" y="627" width="1" height="14"/>
<rect x="1311" y="628" width="1" height="13"/>
<rect x="1319" y="630" width="1" height="11"/>
<rect x="1327" y="631" width="1" height="10"/>
<rect x="1335" y="631" width="1" height="10"/>
<rect x="1343" y="633" width="1" height="8"/>
<rect x="1351" y="633" width="1" height="8"/>
<rect x="1359" y="634" width="1" height="7"/>
<rect x="1367" y="634" width="1" height="7"/>
<rect x="1375" y="635" width="1" height="6"/>
<rect x="1383" y="635" width="1" height="6"/>
<rect x="1391" y="634" width="1" height="7"/>
<rect x="1399" y="633" width="1" height="8"/>
<rect x="1407" y="631" width="1" height="10"/>
<rect x="1415" y="629" width="1" height="12"/>
<rect x="1423" y="628" width="1" height="13"/>
<rect x="1431" y="626" width="1" height="15"/>
<rect x="1439" y="624" width="1" height="17"/>
</g>
<polyline points="-16.5,632.5 -8.5,632.5 -0.5,632.5 7.5,632.5 15.5,632.5 23.5,632.5 31.5,632.5 39.5,631.5 47.5,631.5 55.5,631.5 63.5,630.5 71.5,630.5 79.5,630.5 87.5,630.5 95.5,631.5 103.5,632.5 111.5,633.5 119.5,634.5 127.5,635.5 135.5,636.5 143.5,638.5 151.5,639.5 159.5,640.5 167.5,640.5 175.5,640.5 183.5,640.5 191.5,640.5 199.5,639.5 207.5,638.5 215.5,637.5 223.5,636.5 231.5,635.5 239.5,635.5 247.5,634.5 255.5,634.5 263.5,633.5 271.5,633.5 279.5,634.5 287.5,635.5 295.5,636.5 303.5,638.5 311.5,642.5 319.5,646.5 327.5,650.5 335.5,655.5 343.5,660.5 351.5,664.5 359.5,667.5 367.5,670.5 375.5,673.5 383.5,676.5 391.5,677.5 399.5,679.5 407.5,682.5 415.5,685.5 423.5,689.5 431.5,694.5 439.5,699.5 447.5,704.5 455.5,709.5 463.5,714.5 471.5,719.5 479.5,723.5 487.5,727.5 495.5,729.5 503.5,728.5 511.5,727.5 519.5,724.5 527.5,720.5 535.5,715.5 543.5,709.5 551.5,703.5 559.5,697.5 567.5,692.5 575.5,687.5 583.5,682.5 591.5,677.5 599.5,672.5 607.5,667.5 615.5,662.5 623.5,657.5 631.5,652.5 639.5,646.5 647.5,641.5 655.5,637.5 663.5,633.5 671.5,631.5 679.5,629.5 687.5,628.5 695.5,627.5 703.5,627.5 711.5,626.5 719.5,626.5 727.5,626.5 735.5,626.5 743.5,626.5 751.5,626.5 759.5,626.5 767.5,626.5 775.5,627.5 783.5,627.5 791.5,627.5 799.5,628.5 807.5,628.5 815.5,629.5 823.5,630.5 831.5,630.5 839.5,631.5 847.5,632.5 855.5,632.5 863.5,632.5 871.5,633.5 879.5,633.5 887.5,633.5 895.5,632.5 903.5,631.5 911.5,630.5 919.5,629.5 927.5,627.5 935.5,626.5 943.5,625.5 951.5,624.5 959.5,622.5 967.5,621.5 975.5,619.5 983.5,618.5 991.5,616.5 999.5,614.5 1007.5,612.5 1015.5,610.5 1023.5,609.5 1031.5,609.5 1039.5,609.5 1047.5,610.5 1055.5,611.5 1063.5,613.5 1071.5,615.5 1079.5,618.5 1087.5,621.5 1095.5,623.5 1103.5,625.5 1111.5,627.5 1119.5,628.5 1127.5,630.5 1135.5,632.5 1143.5,634.5 1151.5,635.5 1159.5,636.5 1167.5,637.5 1175.5,638.5 1183.5,639.5 1191.5,639.5 1199.5,639.5 1207.5,639.5 1215.5,638.5 1223.5,638.5 1231.5,637.5 1239.5,637.5 1247.5,636.5 1255.5,635.5 1263.5,634.5 1271.5,633.5 1279.5,632.5 1287.5,631.5 1295.5,630.5 1303.5,629.5 1311.5,629.5 1319.5,628.5 1327.5,628.5 1335.5,629.5 1343.5,629.5 1351.5,629.5 1359.5,630.5 1367.5,631.5 1375.5,632.5 1383.5,632.5 1391.5,633.5 1399.5,633.5 1407.5,633.5 1415.5,633.5 1423.5,632.5 1431.5,631.5 1439.5,630.5" fill="none" stroke="#ff0000" stroke-width="1" stroke-dasharray="3,3" shape-rendering="crispEdges"/>
</g>
<g clip-path="url(#cr)">
<line x1="0" y1="787.5" x2="1690" y2="787.5" stroke="#c0c0c0" stroke-width="1" stroke-dasharray="3,3"/>
<line x1="0" y1="838.5" x2="1690" y2="838.5" stroke="#c0c0c0" stroke-width="1" stroke-dasharray="3,3"/>
<line x1="0" y1="899.5" x2="1690" y2="899.5" stroke="#c0c0c0" stroke-width="1" stroke-dasharray="3,3"/>
<polyline points="-8.5,818.5 -0.5,820.5 7.5,824.5 15.5,816.5 23.5,809.5 31.5,810.5 39.5,809.5 47.5,810.5 55.5,818.5 63.5,824.5 71.5,820.5 79.5,834.5 87.5,847.5 95.5,852.5 103.5,844.5 111.5,843.5 119.5,838.5 127.5,861.5 135.5,859.5 143.5,855.5 151.5,838.5 159.5,820.5 167.5,817.5 175.5,830.5 183.5,835.5 191.5,825.5 199.5,824.5 207.5,820.5 215.5,821.5 223.5,821.5 231.5,819.5 239.5,825.5 247.5,828.5 255.5,824.5 263.5,840.5 271.5,843.5 279.5,855.5 287.5,870.5 295.5,883.5 303.5,888.5 311.5,898.5 319.5,899.5 327.5,901.5 335.5,860.5 343.5,869.5 351.5,850.5 359.5,858.5 367.5,861.5 375.5,871.5 383.5,873.5 391.5,869.5 399.5,877.5 407.5,890.5 415.5,863.5 423.5,869.5 431.5,875.5 439.5,877.5 447.5,877.5 455.5,879.5 463.5,882.5 471.5,885.5 479.5,878.5 487.5,859.5 495.5,853.5 503.5,841.5 511.5,848.5 519.5,851.5 527.5,841.5 535.5,847.5 543.5,850.5 551.5,848.5 559.5,850.5 567.5,847.5 575.5,834.5 583.5,835.5 591.5,828.5 599.5,826.5 607.5,830.5 615.5,829.5 623.5,825.5 631.5,833.5 639.5,824.5 647.5,824.5 655.5,826.5 663.5,832.5 671.5,838.5 679.5,835.5 687.5,835.5 695.5,831.5 703.5,831.5 711.5,826.5 719.5,826.5 727.5,819.5 735.5,829.5 743.5,835.5 751.5,840.5 759.5,835.5 767.5,832.5 775.5,837.5 783.5,831.5 791.5,826.5 799.5,825.5 807.5,831.5 815.5,842.5 823.5,845.5 831.5,838.5 839.5,840.5 847.5,836.5 855.5,823.5 863.5,830.5 871.5,826.5 879.5,826.5 887.5,827.5 895.5,825.5 903.5,823.5 911.5,818.5 919.5,808.5 927.5,816.5 935.5,814.5 943.5,820.5 951.5,819.5 959.5,811.5 967.5,805.5 975.5,807.5 983.5,798.5 991.5,796.5 999.5,793.5 1007.5,799.5 1015.5,815.5 1023.5,841.5 1031.5,838.5 1039.5,843.5 1047.5,830.5 1055.5,828.5 1063.5,834.5 1071.5,831.5 1079.5,840.5 1087.5,841.5 1095.5,831.5 1103.5,834.5 1111.5,845.5 1119.5,840.5 1127.5,849.5 1135.5,850.5 1143.5,838.5 1151.5,837.5 1159.5,837.5 1167.5,835.5 1175.5,838.5 1183.5,833.5 1191.5,827.5 1199.5,835.5 1207.5,832.5 1215.5,838.5 1223.5,832.5 1231.5,831.5 1239.5,832.5 1247.5,818.5 1255.5,818.5 1263.5,822.5 1271.5,825.5 1279.5,823.5 1287.5,823.5 1295.5,819.5 1303.5,818.5 1311.5,828.5 1319.5,835.5 1327.5,836.5 1335.5,829.5 1343.5,836.5 1351.5,833.5 1359.5,833.5 1367.5,836.5 1375.5,837.5 1383.5,828.5 1391.5,823.5 1399.5,814.5 1407.5,810.5 1415.5,806.5 1423.5,809.5 1431.5,802.5 1439.5,802.5" fill="none" stroke="#1e90ff" stroke-width="1" shape-rendering="crispEdges"/>
</g>
<g shape-rendering="crispEdges" fill="#000">
<rect x="0" y="24" width="1691" height="1"/>
<rect x="1690" y="24" width="1" height="568"/>
<rect x="0" y="591" width="1691" height="1"/>
<rect x="0" y="593" width="1691" height="1"/>
<rect x="1690" y="593" width="1" height="157"/>
<rect x="0" y="749" width="1691" height="1"/>
<rect x="0" y="751" width="1691" height="1"/>
<rect x="1690" y="751" width="1" height="174"/>
<rect x="0" y="925" width="1691" height="1"/>
</g>
<rect x="1736" y="22" width="1" height="924" fill="#d8d8d8"/>
<g shape-rendering="crispEdges" fill="#000">
<rect x="1691" y="27" width="2" height="1"/>
<rect x="1691" y="60" width="2" height="1"/>
<rect x="1691" y="93" width="2" height="1"/>
<rect x="1691" y="127" width="2" height="1"/>
<rect x="1691" y="159" width="2" height="1"/>
<rect x="1691" y="192" width="2" height="1"/>
<rect x="1691" y="226" width="2" height="1"/>
<rect x="1691" y="258" width="2" height="1"/>
<rect x="1691" y="292" width="2" height="1"/>
<rect x="1691" y="324" width="2" height="1"/>
<rect x="1691" y="358" width="2" height="1"/>
<rect x="1691" y="391" width="2" height="1"/>
<rect x="1691" y="423" width="2" height="1"/>
<rect x="1691" y="457" width="2" height="1"/>
<rect x="1691" y="490" width="2" height="1"/>
<rect x="1691" y="523" width="2" height="1"/>
<rect x="1691" y="556" width="2" height="1"/>
<rect x="1691" y="588" width="2" height="1"/>
</g>
<g font-family="Liberation Sans" font-size="10" fill="#000">
<text x="1697" y="31" textLength="33" lengthAdjust="spacingAndGlyphs">30076.0</text>
<text x="1697" y="64" textLength="33" lengthAdjust="spacingAndGlyphs">29366.5</text>
<text x="1697" y="131" textLength="33" lengthAdjust="spacingAndGlyphs">27904.5</text>
<text x="1697" y="163" textLength="33" lengthAdjust="spacingAndGlyphs">27195.0</text>
<text x="1697" y="196" textLength="33" lengthAdjust="spacingAndGlyphs">26464.0</text>
<text x="1697" y="230" textLength="33" lengthAdjust="spacingAndGlyphs">25733.0</text>
<text x="1697" y="262" textLength="33" lengthAdjust="spacingAndGlyphs">25023.5</text>
<text x="1697" y="296" textLength="33" lengthAdjust="spacingAndGlyphs">24292.5</text>
<text x="1697" y="328" textLength="33" lengthAdjust="spacingAndGlyphs">23583.0</text>
<text x="1697" y="362" textLength="33" lengthAdjust="spacingAndGlyphs">22852.0</text>
<text x="1697" y="395" textLength="33" lengthAdjust="spacingAndGlyphs">22121.0</text>
<text x="1697" y="427" textLength="33" lengthAdjust="spacingAndGlyphs">21411.5</text>
<text x="1697" y="461" textLength="33" lengthAdjust="spacingAndGlyphs">20680.5</text>
<text x="1697" y="494" textLength="33" lengthAdjust="spacingAndGlyphs">19949.5</text>
<text x="1697" y="527" textLength="33" lengthAdjust="spacingAndGlyphs">19240.0</text>
<text x="1697" y="560" textLength="33" lengthAdjust="spacingAndGlyphs">18509.0</text>
<text x="1697" y="592" textLength="33" lengthAdjust="spacingAndGlyphs">17799.5</text>
</g>
<rect x="1692" y="87" width="41" height="11" fill="#ff0000"/>
<text x="1696" y="97" font-family="Liberation Sans" font-size="10" fill="#fff" textLength="33" lengthAdjust="spacingAndGlyphs">28627.7</text>
<rect x="1692" y="106" width="41" height="11" fill="#ff0000"/>
<text x="1696" y="116" font-family="Liberation Sans" font-size="10" fill="#fff" textLength="33" lengthAdjust="spacingAndGlyphs">28212.1</text>
<rect x="1692" y="131" width="41" height="11" fill="#000000"/>
<text x="1696" y="141" font-family="Liberation Sans" font-size="10" fill="#fff" textLength="33" lengthAdjust="spacingAndGlyphs">27677.0</text>
<rect x="1692" y="147" width="41" height="11" fill="#32cd32"/>
<text x="1696" y="157" font-family="Liberation Sans" font-size="10" fill="#fff" textLength="33" lengthAdjust="spacingAndGlyphs">27315.3</text>
<rect x="1692" y="165" width="41" height="11" fill="#0000ff"/>
<text x="1696" y="175" font-family="Liberation Sans" font-size="10" fill="#fff" textLength="33" lengthAdjust="spacingAndGlyphs">26921.6</text>
<rect x="1692" y="182" width="41" height="11" fill="#0000ff"/>
<text x="1696" y="192" font-family="Liberation Sans" font-size="10" fill="#fff" textLength="33" lengthAdjust="spacingAndGlyphs">26549.7</text>
<g font-family="Liberation Sans" font-size="10" fill="#000">
<text x="1695" y="605" textLength="33" lengthAdjust="spacingAndGlyphs">1024.52</text>
<text x="1694" y="645" textLength="19" lengthAdjust="spacingAndGlyphs">0.00</text>
<text x="1693" y="747" textLength="38" lengthAdjust="spacingAndGlyphs">-2433.25</text>
<text x="1694" y="763">100</text>
<text x="1694" y="792">80</text>
<text x="1694" y="843">50</text>
<text x="1694" y="903">15</text>
<text x="1694" y="922">0</text>
</g>
<g shape-rendering="crispEdges" fill="#000">
<rect x="1691" y="595" width="2" height="1"/>
<rect x="1691" y="640" width="2" height="1"/>
<rect x="1691" y="748" width="2" height="1"/>
<rect x="1691" y="753" width="2" height="1"/>
<rect x="1691" y="787" width="2" height="1"/>
<rect x="1691" y="838" width="2" height="1"/>
<rect x="1691" y="899" width="2" height="1"/>
<rect x="1691" y="924" width="2" height="1"/>
</g>
<g shape-rendering="crispEdges" fill="#000">
<rect x="-1" y="926" width="1" height="3"/>
<rect x="63" y="926" width="1" height="3"/>
<rect x="127" y="926" width="1" height="3"/>
<rect x="191" y="926" width="1" height="3"/>
<rect x="255" y="926" width="1" height="3"/>
<rect x="319" y="926" width="1" height="3"/>
<rect x="383" y="926" width="1" height="3"/>
<rect x="447" y="926" width="1" height="3"/>
<rect x="511" y="926" width="1" height="3"/>
<rect x="575" y="926" width="1" height="3"/>
<rect x="639" y="926" width="1" height="3"/>
<rect x="703" y="926" width="1" height="3"/>
<rect x="767" y="926" width="1" height="3"/>
<rect x="831" y="926" width="1" height="3"/>
<rect x="895" y="926" width="1" height="3"/>
<rect x="959" y="926" width="1" height="3"/>
<rect x="1023" y="926" width="1" height="3"/>
<rect x="1087" y="926" width="1" height="3"/>
<rect x="1151" y="926" width="1" height="3"/>
<rect x="1215" y="926" width="1" height="3"/>
<rect x="1279" y="926" width="1" height="3"/>
<rect x="1343" y="926" width="1" height="3"/>
<rect x="1407" y="926" width="1" height="3"/>
</g>
<g font-family="Liberation Sans" font-size="10" fill="#000">
<text x="-2" y="938" textLength="50.1" lengthAdjust="spacingAndGlyphs">13 Jan 2020</text>
<text x="62" y="938" textLength="50.1" lengthAdjust="spacingAndGlyphs">22 Jan 2020</text>
<text x="126" y="938" textLength="50.1" lengthAdjust="spacingAndGlyphs">31 Jan 2020</text>
<text x="190" y="938" textLength="51.1" lengthAdjust="spacingAndGlyphs">10 Feb 2020</text>
<text x="254" y="938" textLength="51.1" lengthAdjust="spacingAndGlyphs">19 Feb 2020</text>
<text x="318" y="938" textLength="51.1" lengthAdjust="spacingAndGlyphs">28 Feb 2020</text>
<text x="382" y="938" textLength="46.0" lengthAdjust="spacingAndGlyphs">9 Mar 2020</text>
<text x="446" y="938" textLength="51.1" lengthAdjust="spacingAndGlyphs">18 Mar 2020</text>
<text x="510" y="938" textLength="51.1" lengthAdjust="spacingAndGlyphs">27 Mar 2020</text>
<text x="574" y="938" textLength="44.0" lengthAdjust="spacingAndGlyphs">6 Apr 2020</text>
<text x="638" y="938" textLength="49.0" lengthAdjust="spacingAndGlyphs">16 Apr 2020</text>
<text x="702" y="938" textLength="49.0" lengthAdjust="spacingAndGlyphs">26 Apr 2020</text>
<text x="766" y="938" textLength="47.6" lengthAdjust="spacingAndGlyphs">5 May 2020</text>
<text x="830" y="938" textLength="52.6" lengthAdjust="spacingAndGlyphs">14 May 2020</text>
<text x="894" y="938" textLength="52.6" lengthAdjust="spacingAndGlyphs">24 May 2020</text>
<text x="958" y="938" textLength="45.0" lengthAdjust="spacingAndGlyphs">2 Jun 2020</text>
<text x="1022" y="938" textLength="49.4" lengthAdjust="spacingAndGlyphs">11 Jun 2020</text>
<text x="1086" y="938" textLength="50.1" lengthAdjust="spacingAndGlyphs">21 Jun 2020</text>
<text x="1150" y="938" textLength="50.1" lengthAdjust="spacingAndGlyphs">30 Jun 2020</text>
<text x="1214" y="938" textLength="42.0" lengthAdjust="spacingAndGlyphs">9 Jul 2020</text>
<text x="1278" y="938" textLength="47.0" lengthAdjust="spacingAndGlyphs">19 Jul 2020</text>
<text x="1342" y="938" textLength="47.0" lengthAdjust="spacingAndGlyphs">28 Jul 2020</text>
<text x="1406" y="938" textLength="46.0" lengthAdjust="spacingAndGlyphs">6 Aug 2020</text>
</g>
<text x="3" y="606" font-family="Liberation Sans" font-size="10" fill="#000" textLength="128" lengthAdjust="spacingAndGlyphs">MACD(12,26,9) 355.41 219.43</text>
<text x="3" y="764" font-family="Liberation Sans" font-size="10" fill="#000" textLength="68" lengthAdjust="spacingAndGlyphs">RSI(14) 72.1082</text>
<polygon points="2,35 9,35 5.5,31" fill="#000"/>
<text x="14" y="36" font-family="Liberation Sans" font-size="10" fill="#000" textLength="49" lengthAdjust="spacingAndGlyphs">DJ30-,Daily</text>
<text x="69" y="36" font-family="Liberation Sans" font-size="10" fill="#000" textLength="141" lengthAdjust="spacingAndGlyphs">27688.0 28062.0 27533.0 27677.0</text>
</svg>
<svg width="230" height="112" style="position:absolute;left:0;top:0">
<defs><linearGradient id="rg" x1="0" y1="44" x2="0" y2="108" gradientUnits="userSpaceOnUse"><stop offset="0" stop-color="#ff5555"/><stop offset="0.4" stop-color="#e02a2a"/><stop offset="1" stop-color="#b00000"/></linearGradient><linearGradient id="bg" x1="0" y1="45" x2="0" y2="64" gradientUnits="userSpaceOnUse"><stop offset="0" stop-color="#f4f4f4"/><stop offset="0.45" stop-color="#e8e8e8"/><stop offset="0.5" stop-color="#d8d8d8"/><stop offset="1" stop-color="#d0d0d0"/></linearGradient></defs>
<rect x="0" y="41" width="222" height="68" fill="#ffffff"/>
<path d="M2.5,44.5 H53.5 V68.5 H110.5 V107.5 H2.5 Z" fill="url(#rg)" stroke="#b80000" stroke-width="1" shape-rendering="crispEdges"/>
<path d="M168.5,44.5 H220.5 V107.5 H113.5 V68.5 H168.5 Z" fill="url(#rg)" stroke="#b80000" stroke-width="1" shape-rendering="crispEdges"/>
<g shape-rendering="crispEdges">
<rect x="6" y="67" width="44" height="1" fill="#700000"/><rect x="6" y="68" width="44" height="1" fill="#f06060"/>
<rect x="173" y="67" width="44" height="1" fill="#700000"/><rect x="173" y="68" width="44" height="1" fill="#f06060"/>
<rect x="56" y="44" width="111" height="21" fill="#ffffff"/>
<rect x="56.5" y="44.5" width="110" height="20" fill="none" stroke="#a8a8a8" stroke-width="1"/>
<rect x="57" y="45" width="20" height="19" fill="url(#bg)"/><rect x="77" y="45" width="1" height="19" fill="#a8a8a8"/>
<rect x="146" y="45" width="20" height="19" fill="url(#bg)"/><rect x="145" y="45" width="1" height="19" fill="#a8a8a8"/>
</g>
<polygon points="64,53 69,53 66.5,56" fill="#5060c0"/>
<polygon points="153,56 158,56 155.5,53" fill="#5060c0"/>
<text x="142" y="59" text-anchor="end" font-family="Liberation Sans" font-size="13" fill="#000">1.00</text>
<text x="14" y="61" font-family="Liberation Sans" font-size="12.5" fill="#fff" textLength="26" lengthAdjust="spacingAndGlyphs">SELL</text>
<text x="182" y="61" font-family="Liberation Sans" font-size="12.5" fill="#fff" textLength="23" lengthAdjust="spacingAndGlyphs">BUY</text>
<g font-family="Liberation Sans" fill="#fff">
<text x="18" y="99" font-size="12.5" font-weight="bold" textLength="34" lengthAdjust="spacingAndGlyphs">27675</text>
<circle cx="59.5" cy="97" r="2.2" fill="#fff"/>
<text x="64" y="99" font-size="33" textLength="16" lengthAdjust="spacingAndGlyphs">5</text>
<text x="128" y="99" font-size="12.5" font-weight="bold" textLength="34" lengthAdjust="spacingAndGlyphs">27686</text>
<circle cx="169.5" cy="97" r="2.2" fill="#fff"/>
<text x="175" y="99" font-size="33" textLength="16" lengthAdjust="spacingAndGlyphs">5</text>
</g>
</svg>
<svg width="1737" height="20" style="position:absolute;left:0;top:0">
<defs><radialGradient id="clk" cx="0.4" cy="0.35" r="0.7"><stop offset="0" stop-color="#ffffff"/><stop offset="0.55" stop-color="#dfefff"/><stop offset="0.6" stop-color="#3d7fd8"/><stop offset="1" stop-color="#1a4fa0"/></radialGradient><linearGradient id="gold" x1="0" y1="0" x2="1" y2="1"><stop offset="0" stop-color="#ffe070"/><stop offset="1" stop-color="#c08000"/></linearGradient><pattern id="hl" width="2" height="2" patternUnits="userSpaceOnUse"><rect width="2" height="2" fill="#f7f7f7"/><rect width="1" height="1" fill="#fdfdfd"/></pattern></defs>
<rect x="0" y="0" width="1737" height="20" fill="#f0f0f0"/>
<rect x="326" y="0" width="24" height="19" fill="url(#hl)"/>
<rect x="477" y="0" width="25" height="19" fill="url(#hl)"/>
<rect x="666" y="0" width="24" height="19" fill="url(#hl)"/>
<rect x="1139" y="0" width="25" height="19" fill="url(#hl)"/>
<g shape-rendering="crispEdges">
<rect x="51" y="0" width="1" height="18" fill="#a0a0a0"/>
<rect x="287" y="0" width="1" height="18" fill="#a0a0a0"/>
<rect x="325" y="0" width="1" height="18" fill="#a0a0a0"/>
<rect x="382" y="0" width="1" height="18" fill="#a0a0a0"/>
<rect x="472" y="0" width="1" height="18" fill="#a0a0a0"/>
<rect x="477" y="0" width="1" height="18" fill="#a0a0a0"/>
<rect x="504" y="0" width="1" height="18" fill="#a0a0a0"/>
<rect x="534" y="0" width="1" height="18" fill="#a0a0a0"/>
<rect x="655" y="0" width="1" height="18" fill="#a0a0a0"/>
<rect x="665" y="0" width="1" height="18" fill="#a0a0a0"/>
<rect x="722" y="0" width="1" height="18" fill="#a0a0a0"/>
<rect x="961" y="0" width="1" height="18" fill="#a0a0a0"/>
<rect x="1139" y="0" width="1" height="18" fill="#a0a0a0"/>
<rect x="1222" y="0" width="1" height="18" fill="#a0a0a0"/>
<rect x="291" y="1" width="3" height="1" fill="#b8b8b8"/>
<rect x="291" y="3" width="3" height="1" fill="#b8b8b8"/>
<rect x="291" y="5" width="3" height="1" fill="#b8b8b8"/>
<rect x="291" y="7" width="3" height="1" fill="#b8b8b8"/>
<rect x="291" y="9" width="3" height="1" fill="#b8b8b8"/>
<rect x="291" y="11" width="3" height="1" fill="#b8b8b8"/>
<rect x="291" y="13" width="3" height="1" fill="#b8b8b8"/>
<rect x="291" y="15" width="3" height="1" fill="#b8b8b8"/>
<rect x="291" y="17" width="3" height="1" fill="#b8b8b8"/>
<rect x="659" y="1" width="3" height="1" fill="#b8b8b8"/>
<rect x="659" y="3" width="3" height="1" fill="#b8b8b8"/>
<rect x="659" y="5" width="3" height="1" fill="#b8b8b8"/>
<rect x="659" y="7" width="3" height="1" fill="#b8b8b8"/>
<rect x="659" y="9" width="3" height="1" fill="#b8b8b8"/>
<rect x="659" y="11" width="3" height="1" fill="#b8b8b8"/>
<rect x="659" y="13" width="3" height="1" fill="#b8b8b8"/>
<rect x="659" y="15" width="3" height="1" fill="#b8b8b8"/>
<rect x="659" y="17" width="3" height="1" fill="#b8b8b8"/>
<rect x="966" y="1" width="3" height="1" fill="#b8b8b8"/>
<rect x="966" y="3" width="3" height="1" fill="#b8b8b8"/>
<rect x="966" y="5" width="3" height="1" fill="#b8b8b8"/>
<rect x="966" y="7" width="3" height="1" fill="#b8b8b8"/>
<rect x="966" y="9" width="3" height="1" fill="#b8b8b8"/>
<rect x="966" y="11" width="3" height="1" fill="#b8b8b8"/>
<rect x="966" y="13" width="3" height="1" fill="#b8b8b8"/>
<rect x="966" y="15" width="3" height="1" fill="#b8b8b8"/>
<rect x="966" y="17" width="3" height="1" fill="#b8b8b8"/>
</g>
<rect x="-1.5" y="1.5" width="15" height="13" rx="1" fill="#fff" stroke="#3a78c0" stroke-width="1.2"/>
<rect x="-1" y="2" width="2" height="12" fill="#6aa0d8"/><rect x="-1" y="3" width="2" height="1" fill="#111"/><rect x="-1" y="9" width="2" height="4" fill="#4a3a30"/>
<rect x="3" y="3" width="1.5" height="1.4" fill="#e02020"/><rect x="5" y="3.3" width="7" height="0.9" fill="#c8d8f4"/>
<rect x="3" y="5" width="1.5" height="1.4" fill="#223322"/><rect x="5" y="5.3" width="7" height="0.9" fill="#c8d8f4"/>
<rect x="3" y="7" width="1.5" height="1.4" fill="#223322"/><rect x="5" y="7.3" width="7" height="0.9" fill="#c8d8f4"/>
<rect x="3" y="9" width="1.5" height="1.4" fill="#e02020"/><rect x="5" y="9.3" width="7" height="0.9" fill="#c8d8f4"/>
<rect x="26.5" y="0.5" width="12" height="13" fill="#fdfdfd" stroke="#a8a490"/>
<path d="M29.5,2 V8 M28.5,6 H30.5 M36,2 V5" stroke="#555" stroke-width="1" fill="none"/>
<circle cx="34.3" cy="8.7" r="5" fill="#e4f4fc" stroke="#5a90d8" stroke-width="1.2" opacity="0.95"/>
<rect x="32.5" y="6" width="2" height="5" fill="#9ab0c0"/>
<line x1="38.3" y1="12.3" x2="43" y2="16.5" stroke="#c89a20" stroke-width="2.4"/>
<path d="M61.5,0.5 H69 L72.5,4 V13.5 H61.5 Z" fill="#fff" stroke="#707070"/>
<rect x="63" y="2.5" width="3" height="1.5" fill="#999"/><rect x="63" y="6" width="6" height="1" fill="#888"/><rect x="63" y="8.5" width="5" height="1" fill="#888"/>
<path d="M68,8 H72 V11 H75.5 V14.5 H72 V18 H68 V14.5 H65 V11 H68 Z" fill="#22cc22" stroke="#10901a" stroke-width="0.8"/>
<text x="80" y="10.7" font-size="12" fill="#000" textLength="36" lengthAdjust="spacingAndGlyphs" style="font-family:'Liberation Sans',sans-serif">新订单</text>
<path d="M128,8 L135,1 L144,8 L137,15 Z" fill="url(#gold)" stroke="#9a6a00" stroke-width="1"/>
<path d="M129,10 L137,16.5 L144,10" fill="none" stroke="#b07a10" stroke-width="1"/>
<path d="M157.5,1.5 L163.5,0.5 L168.5,1.5 V10 L163.5,11 L157.5,10 Z" fill="#2a8ae8" stroke="#1a60c0" stroke-width="0.8"/>
<path d="M163.5,1 L168.5,2 V10 L163.5,11 Z" fill="#d8ecff"/><rect x="164.5" y="4" width="3" height="1" fill="#5a9ae0"/><rect x="164.5" y="6" width="3" height="1" fill="#5a9ae0"/>
<path d="M156.5,15.2 Q155,12 158.5,11.6 Q159.5,8.3 163.5,9.2 Q166.5,7.8 168.3,11 Q172.5,11 171.8,15.2 Z" fill="#f2f4f8" stroke="#6a80b0" stroke-width="1"/>
<circle cx="192" cy="8" r="7" fill="none" stroke="#7aa0d8" stroke-width="1"/>
<circle cx="192" cy="8" r="4.5" fill="none" stroke="#5a88d0" stroke-width="1"/>
<circle cx="192" cy="8" r="1.8" fill="#2a60c0"/>
<path d="M192,8 V15 M192,15 A7,7 0 0 0 199,8" fill="none" stroke="#28a828" stroke-width="1.3"/>
<ellipse cx="219" cy="5" rx="8" ry="3" fill="#40a0e0" stroke="#2070b0" stroke-width="0.8"/>
<path d="M212,7 L219,15 L226,7 Z" fill="#f0d040" stroke="#c09010" stroke-width="0.8"/>
<circle cx="223.5" cy="11.5" r="4" fill="#d82020"/><rect x="222" y="10" width="3" height="3" fill="#fff"/>
<text x="232" y="10.7" font-size="12" fill="#000" textLength="47" lengthAdjust="spacingAndGlyphs" style="font-family:'Liberation Sans',sans-serif">自动交易</text>
<path d="M304.5,2 V14.5 H316" fill="none" stroke="#404040" stroke-width="1" shape-rendering="crispEdges"/><path d="M303,4 L304.5,2 L306,4 M314,13 L316,14.5 L314,16" fill="none" stroke="#404040" stroke-width="1"/>
<path d="M309.5,5 V12 M307,11.5 H309.5 M309.5,5.5 H312" stroke="#20a020" stroke-width="1.2" fill="none"/>
<path d="M332.5,2 V14.5 H344" fill="none" stroke="#404040" stroke-width="1" shape-rendering="crispEdges"/><path d="M331,4 L332.5,2 L334,4 M342,13 L344,14.5 L342,16" fill="none" stroke="#404040" stroke-width="1"/>
<rect x="336" y="4" width="4" height="7" fill="#30c030" stroke="#108010" stroke-width="0.8"/><path d="M338,2 V13" stroke="#108010"/>
<path d="M360.5,2 V14.5 H372" fill="none" stroke="#404040" stroke-width="1" shape-rendering="crispEdges"/><path d="M359,4 L360.5,2 L362,4 M370,13 L372,14.5 L370,16" fill="none" stroke="#404040" stroke-width="1"/>
<path d="M361,12 L365,6 L368,8 L372,10" fill="none" stroke="#20a020" stroke-width="1.2"/>
<line x1="400" y1="10" x2="406" y2="15.5" stroke="#c8a020" stroke-width="2.5"/>
<circle cx="397" cy="7" r="5.5" fill="#d8ecff" stroke="#3a78c8" stroke-width="1.3"/>
<rect x="394" y="6.2" width="6" height="1.6" fill="#2a6ac0"/>
<rect x="396.2" y="4" width="1.6" height="6" fill="#2a6ac0"/>
<line x1="428" y1="10" x2="434" y2="15.5" stroke="#c8a020" stroke-width="2.5"/>
<circle cx="425" cy="7" r="5.5" fill="#d8ecff" stroke="#3a78c8" stroke-width="1.3"/>
<rect x="422" y="6.2" width="6" height="1.6" fill="#2a6ac0"/>
<rect x="447" y="0" width="8" height="7" fill="#3aa040"/><rect x="456" y="0" width="8" height="7" fill="#2f60c8"/>
<rect x="447" y="8" width="8" height="7" fill="#2f60c8"/><rect x="456" y="8" width="8" height="7" fill="#3aa040"/>
<rect x="448" y="3" width="6" height="2" fill="#e8f0ff"/>
<rect x="457" y="3" width="6" height="2" fill="#e8f0ff"/>
<rect x="448" y="11" width="6" height="2" fill="#e8f0ff"/>
<rect x="457" y="11" width="6" height="2" fill="#e8f0ff"/>
<path d="M484.5,2 V14.5 H496" fill="none" stroke="#404040" stroke-width="1" shape-rendering="crispEdges"/><path d="M483,4 L484.5,2 L486,4 M494,13 L496,14.5 L494,16" fill="none" stroke="#404040" stroke-width="1"/>
<path d="M490,5 L494,8 L490,11 Z" fill="#30c030" stroke="#108010" stroke-width="0.8"/>
<path d="M512.5,2 V14.5 H524" fill="none" stroke="#404040" stroke-width="1" shape-rendering="crispEdges"/><path d="M511,4 L512.5,2 L514,4 M522,13 L524,14.5 L522,16" fill="none" stroke="#404040" stroke-width="1"/>
<path d="M518,3 V12" stroke="#2060c0" stroke-width="1.2"/><path d="M524,7.5 L519.5,7.5 M521,5.5 L519,7.5 L521,9.5" stroke="#e03010" stroke-width="1.2" fill="none"/>
<path d="M544.5,1.5 H551 L554.5,5 V13.5 H544.5 Z" fill="#fff" stroke="#707070"/>
<path d="M551,8 H555 V10.5 H558.5 V14 H555 V17 H551 V14 H548 V10.5 H551 Z" fill="#22cc22" stroke="#10901a" stroke-width="0.8"/>
<polygon points="566,7 572,7 569,10.5" fill="#000"/>
<polygon points="605,7 611,7 608,10.5" fill="#000"/>
<polygon points="644,7 650,7 647,10.5" fill="#000"/>
<polygon points="950,7 956,7 953,10.5" fill="#000"/>
<circle cx="590" cy="8.5" r="7.5" fill="#2a6cd0"/><circle cx="590" cy="8.5" r="7.5" fill="none" stroke="#1a50a8" stroke-width="1"/><circle cx="589.6" cy="8" r="5.6" fill="#f6f9ff"/><path d="M589.5,4.5 V8.5 H592.5" fill="none" stroke="#333" stroke-width="1"/>
<rect x="621.5" y="1.5" width="15" height="13" fill="#fff" stroke="#3a70c0"/><rect x="622" y="2" width="14" height="2" fill="#3a70c0"/>
<path d="M623,7 L626,6 L629,7 L632,6 L635,6" fill="none" stroke="#c03020" stroke-width="1"/><rect x="622" y="9" width="14" height="1" fill="#6090d0"/>
<path d="M623,13 L626,11.5 L629,12.5 L632,11 L635,12" fill="none" stroke="#20a020" stroke-width="1"/>
<path d="M673,2 L673,13 L676,10.5 L678.5,15 L680,14 L677.5,9.5 L681,9.5 Z" fill="#404040"/>
<g shape-rendering="crispEdges" fill="#404040"><rect x="705" y="3" width="1" height="5"/><rect x="705" y="10" width="1" height="6"/><rect x="698" y="8" width="6" height="1"/><rect x="707" y="8" width="6" height="1"/></g>
<g shape-rendering="crispEdges" fill="#404040"><rect x="739" y="2" width="1" height="13"/><rect x="762" y="8" width="12" height="1"/></g>
<line x1="790" y1="15" x2="802" y2="3" stroke="#505050" stroke-width="1"/>
<path d="M816,12 L828,2 M818,15 L830,5 M819,8 L821,13 M823,5 L825,10" stroke="#505050" stroke-width="1" fill="none"/>
<text x="827" y="17" font-family="Liberation Sans" font-size="6.5" font-weight="bold" fill="#404040">E</text>
<g fill="#606060" shape-rendering="crispEdges">
<rect x="845" y="1" width="1" height="1"/>
<rect x="847" y="1" width="1" height="1"/>
<rect x="849" y="1" width="1" height="1"/>
<rect x="851" y="1" width="1" height="1"/>
<rect x="853" y="1" width="1" height="1"/>
<rect x="855" y="1" width="1" height="1"/>
<rect x="857" y="1" width="1" height="1"/>
<rect x="845" y="4" width="1" height="1"/>
<rect x="847" y="4" width="1" height="1"/>
<rect x="849" y="4" width="1" height="1"/>
<rect x="851" y="4" width="1" height="1"/>
<rect x="853" y="4" width="1" height="1"/>
<rect x="855" y="4" width="1" height="1"/>
<rect x="857" y="4" width="1" height="1"/>
<rect x="845" y="7" width="1" height="1"/>
<rect x="847" y="7" width="1" height="1"/>
<rect x="849" y="7" width="1" height="1"/>
<rect x="851" y="7" width="1" height="1"/>
<rect x="853" y="7" width="1" height="1"/>
<rect x="855" y="7" width="1" height="1"/>
<rect x="857" y="7" width="1" height="1"/>
<rect x="845" y="10" width="1" height="1"/>
<rect x="847" y="10" width="1" height="1"/>
<rect x="849" y="10" width="1" height="1"/>
<rect x="851" y="10" width="1" height="1"/>
<rect x="853" y="10" width="1" height="1"/>
<rect x="855" y="10" width="1" height="1"/>
<rect x="857" y="10" width="1" height="1"/>
<rect x="845" y="12" width="1" height="1"/>
<rect x="847" y="12" width="1" height="1"/>
<rect x="849" y="12" width="1" height="1"/>
<rect x="851" y="12" width="1" height="1"/>
<rect x="853" y="12" width="1" height="1"/>
<rect x="855" y="12" width="1" height="1"/>
<rect x="857" y="12" width="1" height="1"/>
</g>
<text x="855" y="17" font-family="Liberation Sans" font-size="6.5" font-weight="bold" fill="#404040">F</text>
<text x="875" y="13" font-family="Liberation Sans" font-size="12" font-weight="bold" fill="#505050">A</text>
<rect x="901.5" y="2.5" width="12" height="12" fill="none" stroke="#606060" stroke-dasharray="1,1"/>
<text x="904" y="12" font-family="Liberation Sans" font-size="10" font-weight="bold" fill="#505050">T</text>
<path d="M929,6 L932,3 L935,6 L932,9 Z M937,11 L940,8 L943,11 L940,14 Z" fill="#404040"/><path d="M932,9 L936,13 L941,5" fill="none" stroke="#404040" stroke-width="1.2"/>
<g font-family="Liberation Sans" font-size="10" fill="#303030">
<text x="976" y="12" textLength="14" lengthAdjust="spacingAndGlyphs">M1</text>
<text x="1004" y="12" textLength="13" lengthAdjust="spacingAndGlyphs">M5</text>
<text x="1030" y="12" textLength="18" lengthAdjust="spacingAndGlyphs">M15</text>
<text x="1058" y="12" textLength="18" lengthAdjust="spacingAndGlyphs">M30</text>
<text x="1090" y="12" textLength="12" lengthAdjust="spacingAndGlyphs">H1</text>
<text x="1116" y="12" textLength="13" lengthAdjust="spacingAndGlyphs">H4</text>
<text x="1145" y="12" textLength="13" lengthAdjust="spacingAndGlyphs">D1</text>
<text x="1173" y="12" textLength="14" lengthAdjust="spacingAndGlyphs">W1</text>
<text x="1199" y="12" textLength="15" lengthAdjust="spacingAndGlyphs">MN</text>
</g>
<circle cx="1693" cy="6" r="3.8" fill="none" stroke="#2a6ad0" stroke-width="1.8"/><line x1="1690" y1="9" x2="1685.5" y2="13.5" stroke="#2a6ad0" stroke-width="2"/>
<ellipse cx="1725.3" cy="4.8" rx="6.2" ry="4.4" fill="#f6f6f8" stroke="#8a8a8a" stroke-width="1"/><path d="M1726.5,9 L1728.5,11.5 L1728,8.5" fill="#8a8a8a" stroke="#707070" stroke-width="0.8"/>
<ellipse cx="1716.3" cy="9" rx="5" ry="3.7" fill="#f6f6f8" stroke="#8a8a8a" stroke-width="1"/><path d="M1714,12.2 L1713.5,14.5 L1716,12.5" fill="#8a8a8a" stroke="#707070" stroke-width="0.8"/>
</svg><div id="tbl1"></div><div id="tbl2"></div>
</body></html>
